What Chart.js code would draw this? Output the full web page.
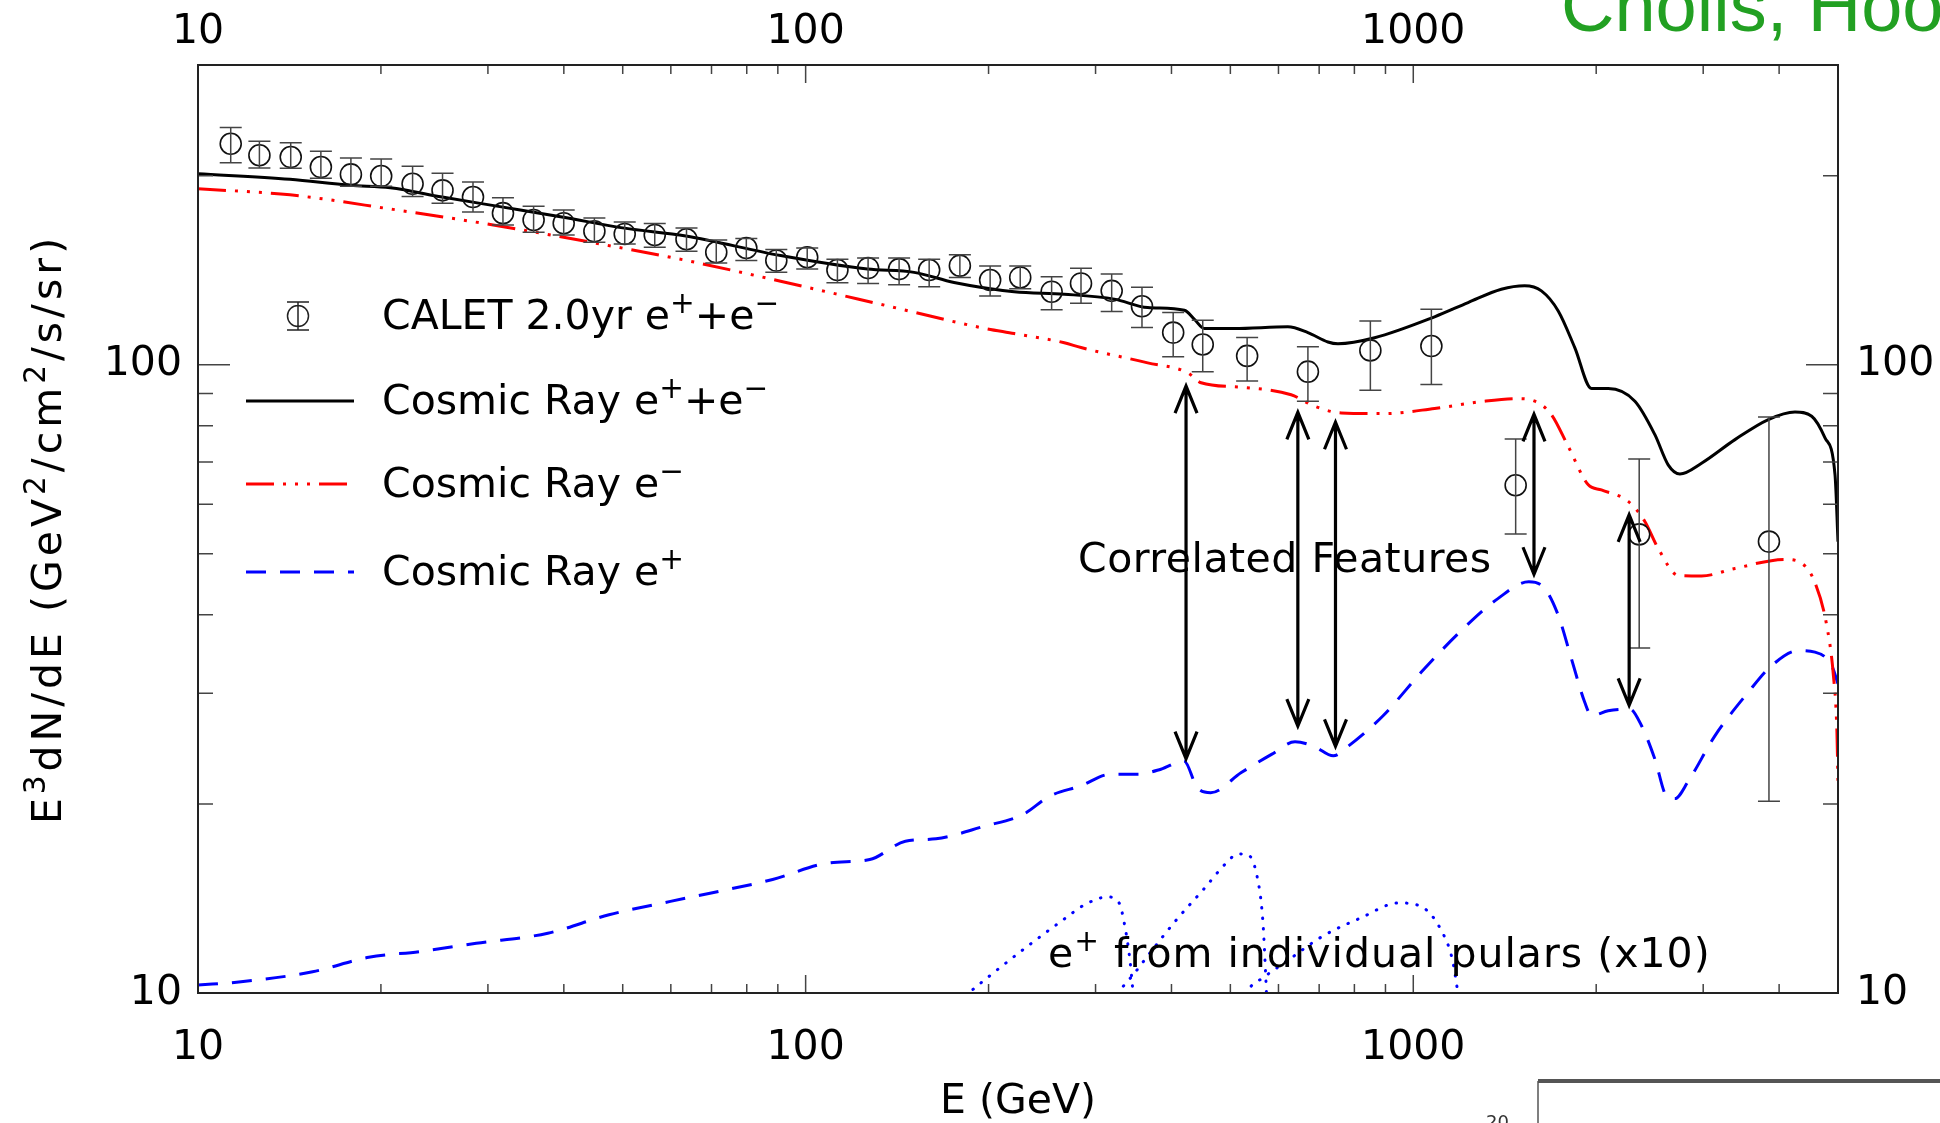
<!DOCTYPE html>
<html>
<head>
<meta charset="utf-8">
<title>CALET e+e- spectrum</title>
<script src="https://cdn.jsdelivr.net/npm/chart.js@4.4.1/dist/chart.umd.min.js"></script>
<style>
    html, body { margin: 0; padding: 0; background: #fff; }
    #wrap { position: relative; width: 1940px; height: 1123px; overflow: hidden; }
    #spectrum { display: block; width: 1940px; height: 1123px; }
</style>
</head>
<body>
<div id="wrap"><canvas id="spectrum" width="1940" height="1123"></canvas></div>
<script>
// axis ranges and ticks
const xMin = 10, xMax = 5000;
const yMin = 10, yMax = 300;
const xMajorTicks = [10, 100, 1000];
const xMinorTicks = [20, 30, 40, 50, 60, 70, 80, 90, 200, 300, 400, 500, 600, 700, 800, 900, 2000, 3000, 4000];
const yMajorTicks = [10, 100];
const yMinorTicks = [20, 30, 40, 50, 60, 70, 80, 90, 200, 300];

// CALET 2.0yr e+ + e- (energy, value, error top, error bottom)
const calE = [11.32, 12.62, 14.21, 15.93, 17.85, 20.02, 22.55, 25.26, 28.35, 31.76, 35.67, 39.98, 44.91, 50.38, 56.45, 63.67, 71.27, 79.87, 89.48, 100.6,
    112.8, 126.7, 142.5, 159.7, 179.4, 201.2, 225.5, 254.0, 283.9, 318.9, 357.7, 402.6, 450.3, 532.8, 670.8, 849.9, 1071, 1474, 2354, 3849];
const calV = [224.8, 215.5, 214.1, 206.4, 200.9, 199.7, 194.1, 189.5, 184.9, 174.3, 170.0, 168.0, 163.1, 161.5, 160.9, 158.4, 151.0, 153.4, 146.5, 148.3,
    141.5, 142.5, 142.0, 141.5, 143.8, 136.4, 137.7, 130.7, 134.7, 131.1, 123.9, 112.5, 107.7, 103.3, 97.5, 105.4, 107.1, 64.3, 53.7, 52.3];
const calHi = [238.5, 226.9, 225.7, 218.7, 213.4, 212.6, 206.9, 201.7, 195.3, 184.4, 178.8, 176.4, 171.3, 168.8, 167.8, 165.0, 158.0, 158.8, 152.5, 153.4,
    147.2, 147.9, 147.9, 147.2, 149.7, 143.6, 143.6, 138.1, 142.4, 139.4, 132.8, 121.1, 117.7, 110.5, 106.8, 117.4, 122.6, 76.2, 70.8, 82.6];
const calLo = [209.7, 205.7, 205.4, 198.0, 192.3, 192.3, 185.3, 180.8, 175.1, 166.9, 162.5, 160.9, 156.7, 155.7, 153.8, 151.6, 145.2, 146.5, 140.3, 142.0,
    135.1, 134.7, 134.1, 133.1, 137.7, 128.6, 132.1, 122.3, 125.3, 121.5, 114.6, 103.0, 97.5, 94.2, 87.5, 91.1, 93.0, 53.8, 35.4, 20.2];

// Cosmic Ray e+ + e-
const totE = [10, 14.17, 17.8, 20.72, 25.23, 31.76, 39.94, 50.32, 63.5, 90.95, 126.4, 150.8, 175.5, 220.4, 266.5, 322.1, 365.5, 420.1, 436.3, 453.1,
    507.6, 621.6, 670.8, 723.7, 751.7, 863.7, 1084, 1231, 1396, 1525, 1625, 1732, 1844, 1965, 2093, 2316, 2498, 2627, 2747, 2981,
    3384, 3840, 4248, 4526, 4760, 4944, 5000];
const totV = [201.4, 197.3, 193.0, 191.3, 184.9, 178.2, 171.7, 165.0, 160.3, 149.2, 142.0, 140.3, 135.2, 130.7, 129.5, 127.2, 123.3, 122.1, 118.1, 114.2,
    114.2, 114.9, 112.5, 108.7, 108.0, 110.4, 119.2, 125.6, 131.9, 133.6, 131.1, 121.8, 106.5, 91.65, 91.65, 87.5, 77.4, 69.3, 67.0, 69.7,
    76.0, 81.8, 84.1, 82.8, 76.5, 66.8, 52.3];

// Cosmic Ray e-
const eleE = [10, 14.17, 20.72, 30.27, 44.24, 64.65, 90.95, 132.9, 194.2, 220.4, 266.5, 283.9, 365.5, 425.6, 447.5, 520.7, 629.5, 687.8, 761.2, 897.1,
    1084, 1311, 1488, 1585, 1688, 1798, 1941, 2040, 2258, 2405, 2530, 2730, 2981, 3384, 4090, 4358, 4582, 4790, 4914, 4980, 5000];
const eleV = [190.6, 186.4, 177.0, 167.2, 156.7, 146.1, 135.8, 124.8, 114.6, 112.1, 108.4, 106.5, 100.7, 97.1, 93.6, 92.1, 89.6, 85.9, 83.8, 83.6,
    85.2, 87.5, 88.3, 87.5, 83.3, 74.2, 64.4, 63.2, 60.6, 56.3, 51.0, 46.2, 46.1, 47.4, 49.0, 48.3, 45.0, 38.5, 32.0, 26.0, 21.6];

// Cosmic Ray e+
const posE = [10, 11.77, 15.44, 19.10, 23.19, 28.70, 37.64, 47.47, 59.91, 69.93, 88.24, 109.2, 127.5, 145.9, 163.9, 197.0, 227.9, 252.3, 283.4, 318.2,
    352.2, 384.3, 419.3, 441.1, 464.1, 521.1, 585.4, 638.8, 687.0, 738.6, 782.8, 891.9, 1031, 1193, 1378, 1549, 1646, 1732, 1821, 1915,
    1965, 2093, 2272, 2375, 2498, 2611, 2694, 2836, 3136, 3559, 3889, 4304, 4582, 4882, 5000];
const posV = [10.30, 10.42, 10.81, 11.40, 11.64, 12.00, 12.45, 13.32, 13.99, 14.43, 15.16, 16.11, 16.31, 17.44, 17.60, 18.43, 19.24, 20.58, 21.36, 22.30,
    22.30, 22.71, 23.42, 21.23, 20.84, 22.43, 24.00, 25.11, 24.69, 23.85, 24.74, 27.63, 32.42, 37.55, 42.44, 45.13, 44.03, 39.92, 34.03, 29.03,
    27.63, 28.13, 28.31, 26.63, 23.57, 20.58, 20.39, 21.75, 25.66, 30.12, 33.20, 35.08, 34.88, 33.20, 31.05];

// e+ from individual pulsars (x10)
const pulsarAE = [178, 185.7, 200.2, 231.6, 267.8, 287.9, 314.1, 328.0, 335.3, 341.7, 345.1, 347];
const pulsarAV = [9.6, 10.0, 10.62, 11.86, 13.16, 13.82, 14.22, 13.91, 12.76, 11.29, 10.23, 9.6];
const pulsarBE = [320, 327.1, 347.6, 368.4, 407.7, 451.4, 492.5, 514.5, 533.4, 553.2, 565.3, 571.1, 572.7, 574];
const pulsarBV = [9.6, 10.0, 10.75, 11.57, 13.08, 14.61, 16.11, 16.65, 16.61, 15.34, 13.08, 10.88, 10.23, 9.6];
const pulsarCE = [520, 529.6, 569.5, 612.4, 708.0, 818.5, 946.4, 1033, 1111, 1160, 1180, 1190];
const pulsarCV = [9.6, 10.0, 10.62, 11.15, 12.30, 13.16, 13.91, 13.71, 12.60, 11.29, 10.23, 9.6];

// correlated features arrows
const arrowE = [422.7, 645.7, 744.7, 1580, 2266];
const arrowTop = [92.5, 84.0, 81.0, 83.4, 57.7];
const arrowBottom = [23.6, 26.6, 24.7, 46.4, 28.7];

// texts
const legendLabels = [
    [['CALET 2.0yr e', false], ['+', true], ['+e', false], ['\u2212', true]],
    [['Cosmic Ray e', false], ['+', true], ['+e', false], ['\u2212', true]],
    [['Cosmic Ray e', false], ['\u2212', true]],
    [['Cosmic Ray e', false], ['+', true]]
];
const yTitleParts = [['E', false], ['3', true], ['dN/dE (GeV', false], ['2', true], ['/cm', false], ['2', true], ['/s/sr)', false]];
const pulsarLabel = [['e', false], ['+', true], [' from individual pulars (x10)', false]];
const featuresLabel = 'Correlated Features';

const FONT = '"DejaVu Sans", sans-serif';
Chart.defaults.font.family = FONT;
Chart.defaults.font.size = 41;
Chart.defaults.color = '#000';

function toPoints(xs, ys) {
    return xs.map((x, i) => ({ x: x, y: ys[i] }));
}

// text with superscripts, returns width
function drawRich(ctx, parts, x, y, size, dry) {
    let cx = x;
    parts.forEach(([text, sup]) => {
        const s = sup ? size * 0.72 : size;
        ctx.font = `${s}px ${FONT}`;
        if (!dry) ctx.fillText(text, cx, sup ? y - size * 0.4 : y);
        cx += ctx.measureText(text).width;
    });
    return cx - x;
}

function fixTicks(values) {
    return function(scale) {
        scale.ticks = values.map(v => ({ value: v }));
    };
}

const errorBarPlugin = {
    id: 'errorBars',
    afterDatasetsDraw(chart) {
        const { ctx, scales: { x, y } } = chart;
        ctx.save();
        ctx.strokeStyle = '#444';
        ctx.lineWidth = 1.5;
        calE.forEach((e, i) => {
            const px = x.getPixelForValue(e);
            const top = y.getPixelForValue(calHi[i]);
            const bot = y.getPixelForValue(calLo[i]);
            ctx.beginPath();
            ctx.moveTo(px, top); ctx.lineTo(px, bot);
            ctx.moveTo(px - 11, top); ctx.lineTo(px + 11, top);
            ctx.moveTo(px - 11, bot); ctx.lineTo(px + 11, bot);
            ctx.stroke();
        });
        ctx.restore();
    }
};

const arrowPlugin = {
    id: 'arrows',
    afterDatasetsDraw(chart) {
        const { ctx, scales: { x, y } } = chart;
        ctx.save();
        ctx.strokeStyle = '#000';
        ctx.lineWidth = 3.2;
        arrowE.forEach((e, i) => {
            const px = x.getPixelForValue(e);
            const top = y.getPixelForValue(arrowTop[i]);
            const bot = y.getPixelForValue(arrowBottom[i]);
            ctx.beginPath();
            ctx.moveTo(px, top); ctx.lineTo(px, bot);
            ctx.moveTo(px - 11, top + 27); ctx.lineTo(px, top); ctx.lineTo(px + 11, top + 27);
            ctx.moveTo(px - 11, bot - 27); ctx.lineTo(px, bot); ctx.lineTo(px + 11, bot - 27);
            ctx.stroke();
        });
        ctx.restore();
    }
};

const framePlugin = {
    id: 'frame',
    afterDraw(chart) {
        const { ctx, chartArea: a, scales: { x, y } } = chart;
        ctx.save();
        ctx.strokeStyle = '#444';
        ctx.lineWidth = 1.5;
        ctx.beginPath();
        const xTick = (v, len) => {
            const px = x.getPixelForValue(v);
            ctx.moveTo(px, a.bottom); ctx.lineTo(px, a.bottom - len);
            ctx.moveTo(px, a.top); ctx.lineTo(px, a.top + len);
        };
        const yTick = (v, len) => {
            const py = y.getPixelForValue(v);
            ctx.moveTo(a.left, py); ctx.lineTo(a.left + len, py);
            ctx.moveTo(a.right, py); ctx.lineTo(a.right - len, py);
        };
        xMajorTicks.forEach(v => xTick(v, 18));
        xMinorTicks.forEach(v => xTick(v, 9));
        yMajorTicks.forEach(v => yTick(v, 32));
        yMinorTicks.forEach(v => yTick(v, 15));
        ctx.stroke();
        ctx.strokeStyle = '#222';
        ctx.lineWidth = 2;
        ctx.strokeRect(a.left, a.top, a.right - a.left, a.bottom - a.top);
        ctx.restore();
    }
};

const annotationPlugin = {
    id: 'annotations',
    afterDraw(chart) {
        const { ctx, chartArea: a } = chart;
        const ds = chart.data.datasets;
        ctx.save();
        ctx.fillStyle = '#000';
        ctx.textAlign = 'left';
        ctx.textBaseline = 'alphabetic';

        // legend
        const rows = [316, 401, 484, 572];
        ctx.strokeStyle = '#222';
        ctx.lineWidth = 1.5;
        ctx.beginPath();
        ctx.arc(298, rows[0], 10.5, 0, Math.PI * 2);
        ctx.moveTo(298, rows[0] - 14); ctx.lineTo(298, rows[0] + 14);
        ctx.moveTo(287, rows[0] - 14); ctx.lineTo(309, rows[0] - 14);
        ctx.moveTo(287, rows[0] + 14); ctx.lineTo(309, rows[0] + 14);
        ctx.stroke();
        [1, 2, 3].forEach(i => {
            ctx.save();
            ctx.strokeStyle = ds[i].borderColor;
            ctx.lineWidth = ds[i].borderWidth;
            ctx.setLineDash(ds[i].borderDash || []);
            ctx.beginPath();
            ctx.moveTo(246, rows[i]); ctx.lineTo(354, rows[i]);
            ctx.stroke();
            ctx.restore();
        });
        legendLabels.forEach((parts, i) => drawRich(ctx, parts, 382, rows[i] + 13, 41));

        // annotations
        ctx.save();
        ctx.letterSpacing = '0.5px';
        ctx.font = `41px ${FONT}`;
        ctx.fillText(featuresLabel, 1078, 572);
        ctx.letterSpacing = '1px';
        drawRich(ctx, pulsarLabel, 1048, 967, 41);
        ctx.restore();

        // y axis title
        ctx.save();
        ctx.translate(46, (a.top + a.bottom) / 2);
        ctx.rotate(-Math.PI / 2);
        ctx.letterSpacing = '4px';
        const w = drawRich(ctx, yTitleParts, 0, 0, 41, true);
        drawRich(ctx, yTitleParts, -w / 2, 15, 41);
        ctx.restore();

        // bits of the slide around the figure
        ctx.fillStyle = '#22a022';
        ctx.font = '74px "Liberation Sans", sans-serif';
        ctx.fillText('Cholis, Hoo', 1561, 31);
        ctx.strokeStyle = '#555';
        ctx.lineWidth = 4;
        ctx.beginPath();
        ctx.moveTo(1538, 1081); ctx.lineTo(1940, 1081);
        ctx.stroke();
        ctx.lineWidth = 1.5;
        ctx.beginPath();
        ctx.moveTo(1538, 1081); ctx.lineTo(1538, 1123);
        ctx.stroke();
        ctx.fillStyle = '#333';
        ctx.font = `18px ${FONT}`;
        ctx.fillText('20', 1486, 1128);
        ctx.restore();
    }
};

const lineBase = { showLine: true, pointRadius: 0, borderWidth: 3, cubicInterpolationMode: 'monotone', order: 1 };
const pulsarStyle = Object.assign({}, lineBase, { borderColor: '#0000ff', borderWidth: 3, borderDash: [0.5, 10], borderCapStyle: 'round' });

const ctx = document.getElementById('spectrum').getContext('2d');
new Chart(ctx, {
    type: 'scatter',
    data: {
        datasets: [
            {
                label: 'CALET 2.0yr e+e-',
                data: toPoints(calE, calV),
                showLine: false,
                pointRadius: 10.5,
                pointBorderWidth: 1.6,
                pointBorderColor: '#111',
                pointBackgroundColor: 'rgba(0,0,0,0)',
                order: 0
            },
            Object.assign({}, lineBase, { label: 'Cosmic Ray e+e-', data: toPoints(totE, totV), borderColor: '#000' }),
            Object.assign({}, lineBase, { label: 'Cosmic Ray e-', data: toPoints(eleE, eleV), borderColor: '#ff0000', borderDash: [28, 9, 3, 9, 3, 9, 3, 9] }),
            Object.assign({}, lineBase, { label: 'Cosmic Ray e+', data: toPoints(posE, posV), borderColor: '#0000ff', borderDash: [20, 14] }),
            Object.assign({}, pulsarStyle, { label: 'pulsar A', data: toPoints(pulsarAE, pulsarAV) }),
            Object.assign({}, pulsarStyle, { label: 'pulsar B', data: toPoints(pulsarBE, pulsarBV) }),
            Object.assign({}, pulsarStyle, { label: 'pulsar C', data: toPoints(pulsarCE, pulsarCV) })
        ]
    },
    options: {
        responsive: false,
        animation: false,
        layout: { padding: 0 },
        plugins: {
            legend: { display: false },
            tooltip: { enabled: false }
        },
        scales: {
            x: {
                type: 'logarithmic', position: 'bottom', min: xMin, max: xMax,
                afterBuildTicks: fixTicks(xMajorTicks),
                afterFit(s) { s.height = 130; },
                ticks: { callback: v => String(v), padding: 31, maxRotation: 0, autoSkip: false },
                grid: { display: false, drawTicks: false },
                border: { display: false },
                title: { display: true, text: 'E (GeV)', font: { size: 41, lineHeight: 1.0 }, padding: { top: 0, bottom: 0 } }
            },
            xTop: {
                type: 'logarithmic', position: 'top', min: xMin, max: xMax,
                afterBuildTicks: fixTicks(xMajorTicks),
                afterFit(s) { s.height = 65; },
                ticks: { callback: v => String(v), padding: 8, maxRotation: 0, autoSkip: false },
                grid: { display: false, drawTicks: false },
                border: { display: false }
            },
            y: {
                type: 'logarithmic', position: 'left', min: yMin, max: yMax,
                afterBuildTicks: fixTicks(yMajorTicks),
                afterFit(s) { s.width = 198; },
                ticks: { callback: v => String(v), padding: 16, autoSkip: false },
                grid: { display: false, drawTicks: false },
                border: { display: false }
            },
            yRight: {
                type: 'logarithmic', position: 'right', min: yMin, max: yMax,
                afterBuildTicks: fixTicks(yMajorTicks),
                afterFit(s) { s.width = 102; },
                ticks: { callback: v => String(v), padding: 18, autoSkip: false },
                grid: { display: false, drawTicks: false },
                border: { display: false }
            }
        }
    },
    plugins: [errorBarPlugin, arrowPlugin, framePlugin, annotationPlugin]
});
</script>
</body>
</html>
